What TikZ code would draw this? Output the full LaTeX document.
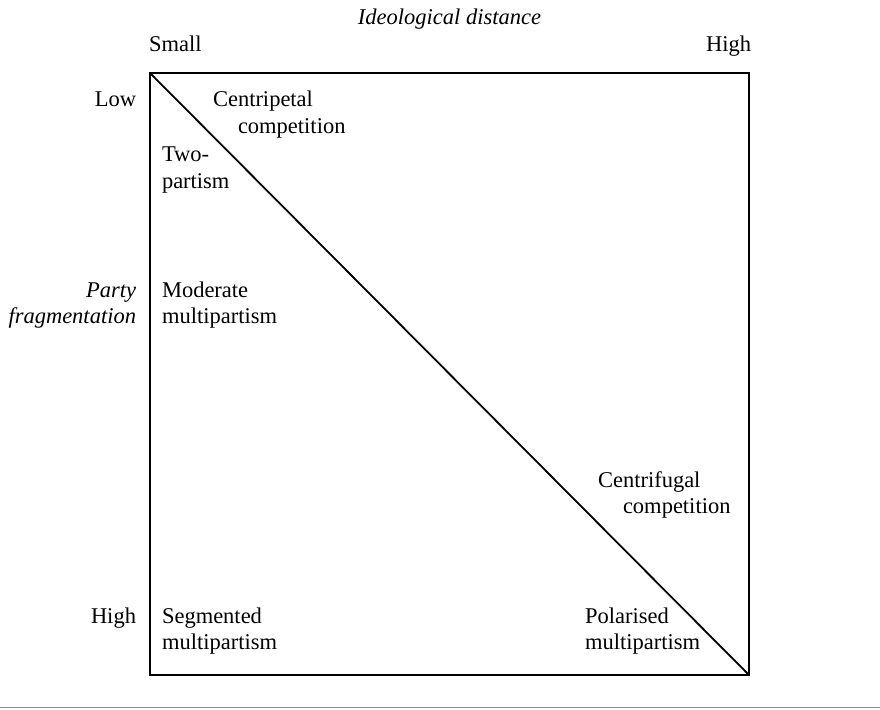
\documentclass[tikz,border=0pt]{standalone}
\usepackage{fontspec}
\setmainfont{Liberation Serif}
\begin{document}
\begin{tikzpicture}[x=1pt,y=-1pt,
  lbl/.style={inner sep=0pt,outer sep=0pt,font=\fontsize{22.5}{28}\selectfont},
  lw/.style={lbl,anchor=base west},
  le/.style={lbl,anchor=base east},
  lc/.style={lbl,anchor=base},
  it/.style={font=\fontsize{22.5}{28}\selectfont\itshape}]
\useasboundingbox (0,0) rectangle (880,709);
% frame and diagonal
\coordinate (tl) at (150,73);
\coordinate (br) at (749,675);
\draw[line width=1.8pt] (tl) -- (br);
\draw[line width=2.6pt,line join=miter] (tl) rectangle (br);
% rule under the figure
\coordinate (r0) at (0,707.5);
\coordinate (r1) at (880,707.5);
\draw[line width=1.5pt,color=black!45] (r0) -- (r1);
% axis titles and ends
\node[lc,it] (xt) at (449.5,25) {Ideological distance};
\node[lw] (xs) at (149,52) {Small};
\node[le] (xh) at (751,52) {High};
\node[le] (yl) at (136,106) {Low};
\node[le,it] (yp1) at (136,297) {Party};
\node[le,it] (yp2) at (136,323) {fragmentation};
\node[le] (yh) at (136,623) {High};
% cell labels
\node[lw] (cp1) at (213,106) {Centripetal};
\node[lw] (cp2) at (238,133) {competition};
\node[lw] (tp1) at (162,161) {Two-};
\node[lw] (tp2) at (162,188) {partism};
\node[lw] (mm1) at (162,297) {Moderate};
\node[lw] (mm2) at (162,323) {multipartism};
\node[lw] (cf1) at (598,487) {Centrifugal};
\node[lw] (cf2) at (623,513) {competition};
\node[lw] (sm1) at (162,623) {Segmented};
\node[lw] (sm2) at (162,649) {multipartism};
\node[lw] (pm1) at (585,623) {Polarised};
\node[lw] (pm2) at (585,649) {multipartism};
\end{tikzpicture}
\end{document}
